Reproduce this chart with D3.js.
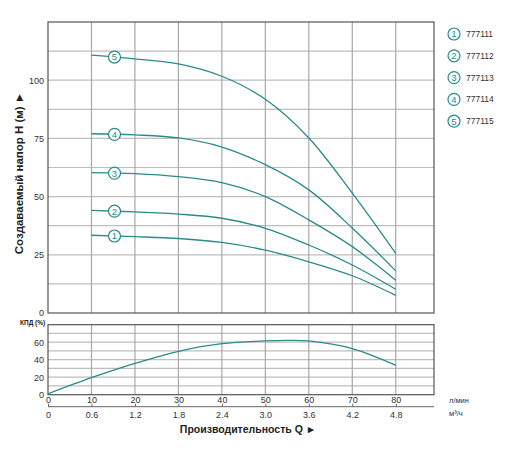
<!DOCTYPE html>
<html>
<head>
<meta charset="utf-8">
<script src="https://cdn.jsdelivr.net/npm/d3@7"></script>
<style>
  body { margin: 0; background: #fff; }
  text { font-family: "Liberation Sans", Arial, sans-serif; }
</style>
</head>
<body>
<svg id="chart" width="512" height="454"></svg>
<script>
// flow, l/min
const flow = [10, 20, 30, 40, 50, 60, 70, 80];
// head per model, m
const head1 = [33.4, 32.8, 32.0, 30.3, 27.0, 22.0, 16.0, 7.6];
const head2 = [44.1, 43.4, 42.5, 40.7, 36.4, 29.2, 20.6, 10.2];
const head3 = [60.3, 59.9, 58.6, 56.0, 50.0, 40.0, 28.5, 14.1];
const head4 = [77.0, 76.5, 75.2, 71.3, 63.7, 52.9, 36.5, 18.1];
const head5 = [110.8, 109.2, 107.0, 101.7, 91.8, 75.2, 51.5, 25.6];
const models = ["777111", "777112", "777113", "777114", "777115"];
// efficiency
const effFlow = [0, 10, 20, 30, 40, 50, 55, 60, 70, 80];
const effValue = [1, 19.4, 35.8, 49.6, 58.3, 61.4, 62, 61.4, 52.6, 33.6];
// tick labels
const flowTicks = [0, 10, 20, 30, 40, 50, 60, 70, 80];
const m3Labels = ["0", "0.6", "1.2", "1.8", "2.4", "3.0", "3.6", "4.2", "4.8"];
const headTicks = [0, 25, 50, 75, 100];
const effTicks = [0, 20, 40, 60];

const cfg = {
  left: 48, right: 434,
  hTop: 22, hBottom: 313,
  eTop: 324.7, eBottom: 394.7,
  lineColor: "#2a8a8c",
  gridColor: "#bdbdbd",
  borderColor: "#555",
  fontColor: "#333",
  markerQ: 15.3,
  markerR: 6,
};

const svg = d3.select("#chart");
const x = d3.scaleLinear().domain([0, 88.8]).range([cfg.left, cfg.right]);
const yH = d3.scaleLinear().domain([0, 125]).range([cfg.hBottom, cfg.hTop]);
const yE = d3.scaleLinear().domain([0, 80]).range([cfg.eBottom, cfg.eTop]);

// grid helper
function grid(g, yScale, yVals, top, bottom) {
  g.selectAll("line.h").data(yVals).join("line")
    .attr("x1", cfg.left).attr("x2", cfg.right)
    .attr("y1", (d) => yScale(d)).attr("y2", (d) => yScale(d))
    .attr("stroke", cfg.gridColor).attr("stroke-width", 1.2);
  g.selectAll("line.v").data(flowTicks.slice(1)).join("line")
    .attr("class", "v")
    .attr("x1", (d) => x(d)).attr("x2", (d) => x(d))
    .attr("y1", top).attr("y2", bottom)
    .attr("stroke", "#a8a8a8").attr("stroke-width", 1.2);
  g.append("rect")
    .attr("x", cfg.left).attr("y", top)
    .attr("width", cfg.right - cfg.left).attr("height", bottom - top)
    .attr("fill", "none").attr("stroke", cfg.borderColor).attr("stroke-width", 1.2);
}

grid(svg.append("g"), yH, d3.range(12.5, 125, 12.5), cfg.hTop, cfg.hBottom);
grid(svg.append("g"), yE, d3.range(10, 80, 10), cfg.eTop, cfg.eBottom);

// y tick labels
function yLabels(scale, vals) {
  const ax = svg.append("g")
    .attr("transform", `translate(${cfg.left - 2},0)`)
    .call(d3.axisLeft(scale).tickValues(vals).tickSize(0).tickPadding(2));
  ax.select(".domain").remove();
  ax.selectAll("text").attr("font-size", 9).attr("fill", cfg.fontColor)
    .style("font-family", "Liberation Sans, Arial, sans-serif");
}
yLabels(yH, headTicks);
yLabels(yE, effTicks);

// lower x axes
const ax1 = svg.append("g")
  .attr("transform", `translate(0,${cfg.eBottom})`)
  .call(d3.axisBottom(x).tickValues(flowTicks).tickSize(0).tickPadding(2));
ax1.select(".domain").remove();
const ax2 = svg.append("g")
  .attr("transform", `translate(0,${cfg.eBottom + 12})`)
  .call(d3.axisTop(x).tickValues(flowTicks).tickSize(3));
ax2.select(".domain").attr("d", `M${cfg.left},0H${cfg.right}`).attr("stroke", "#666");
ax2.selectAll(".tick line").attr("stroke", "#666");
ax2.selectAll(".tick text").remove();
ax2.selectAll(".tick").append("text")
  .attr("y", 11).attr("text-anchor", "middle")
  .text((d, i) => m3Labels[i]);
svg.selectAll(".tick text").attr("font-size", 9).attr("fill", cfg.fontColor)
  .style("font-family", "Liberation Sans, Arial, sans-serif");

// units
svg.append("text").attr("x", 449).attr("y", 403).attr("font-size", 7.5)
  .attr("fill", cfg.fontColor).text("л/мин");
svg.append("text").attr("x", 449).attr("y", 416).attr("font-size", 7.5)
  .attr("fill", cfg.fontColor).text("м³/ч");

// titles
svg.append("text")
  .attr("transform", "translate(23,173) rotate(-90)")
  .attr("text-anchor", "middle").attr("font-size", 11.5).attr("font-weight", "bold")
  .attr("fill", "#222").text("Создаваемый напор H (м) ►");
svg.append("text")
  .attr("x", 248).attr("y", 433)
  .attr("text-anchor", "middle").attr("font-size", 10.5).attr("font-weight", "bold")
  .attr("fill", "#222").text("Производительность Q ►");
svg.append("text")
  .attr("x", 20).attr("y", 325)
  .attr("font-size", 6.5).attr("font-weight", "bold")
  .attr("fill", "#222").text("КПД (%)");

// head curves
const heads = [head1, head2, head3, head4, head5];
const headLine = d3.line()
  .x((d) => x(d[0])).y((d) => yH(d[1]))
  .curve(d3.curveCatmullRom.alpha(0.5));
const curveG = svg.append("g");
heads.forEach((h, i) => {
  const pts = flow.map((q, j) => [q, h[j]]);
  curveG.append("path")
    .attr("d", headLine(pts))
    .attr("fill", "none")
    .attr("stroke", cfg.lineColor)
    .attr("stroke-width", 1.3);
  const mq = cfg.markerQ;
  const mh = h[0] + (h[1] - h[0]) * (mq - flow[0]) / (flow[1] - flow[0]);
  curveG.append("circle")
    .attr("cx", x(mq)).attr("cy", yH(mh)).attr("r", cfg.markerR)
    .attr("fill", "#fff").attr("stroke", cfg.lineColor).attr("stroke-width", 1.2);
  curveG.append("text")
    .attr("x", x(mq)).attr("y", yH(mh) + 3.4)
    .attr("text-anchor", "middle").attr("font-size", 9.5)
    .attr("fill", cfg.lineColor).text(i + 1);
});

// efficiency
const effLine = d3.line()
  .x((d) => x(d[0])).y((d) => yE(d[1]))
  .curve(d3.curveCatmullRom.alpha(0.5));
svg.append("path")
  .attr("d", effLine(effFlow.map((q, j) => [q, effValue[j]])))
  .attr("fill", "none")
  .attr("stroke", cfg.lineColor)
  .attr("stroke-width", 1.3);

// legend
const legend = svg.append("g").selectAll("g").data(models).join("g")
  .attr("transform", (d, i) => `translate(454,${34 + i * 21.8})`);
legend.append("circle").attr("r", cfg.markerR)
  .attr("fill", "#fff").attr("stroke", cfg.lineColor).attr("stroke-width", 1.2);
legend.append("text").attr("y", 3.4).attr("text-anchor", "middle")
  .attr("font-size", 9.5).attr("fill", cfg.lineColor).text((d, i) => i + 1);
legend.append("text").attr("x", 12).attr("y", 3)
  .attr("font-size", 8.5).attr("fill", cfg.fontColor).text((d) => d);
</script>
</body>
</html>
